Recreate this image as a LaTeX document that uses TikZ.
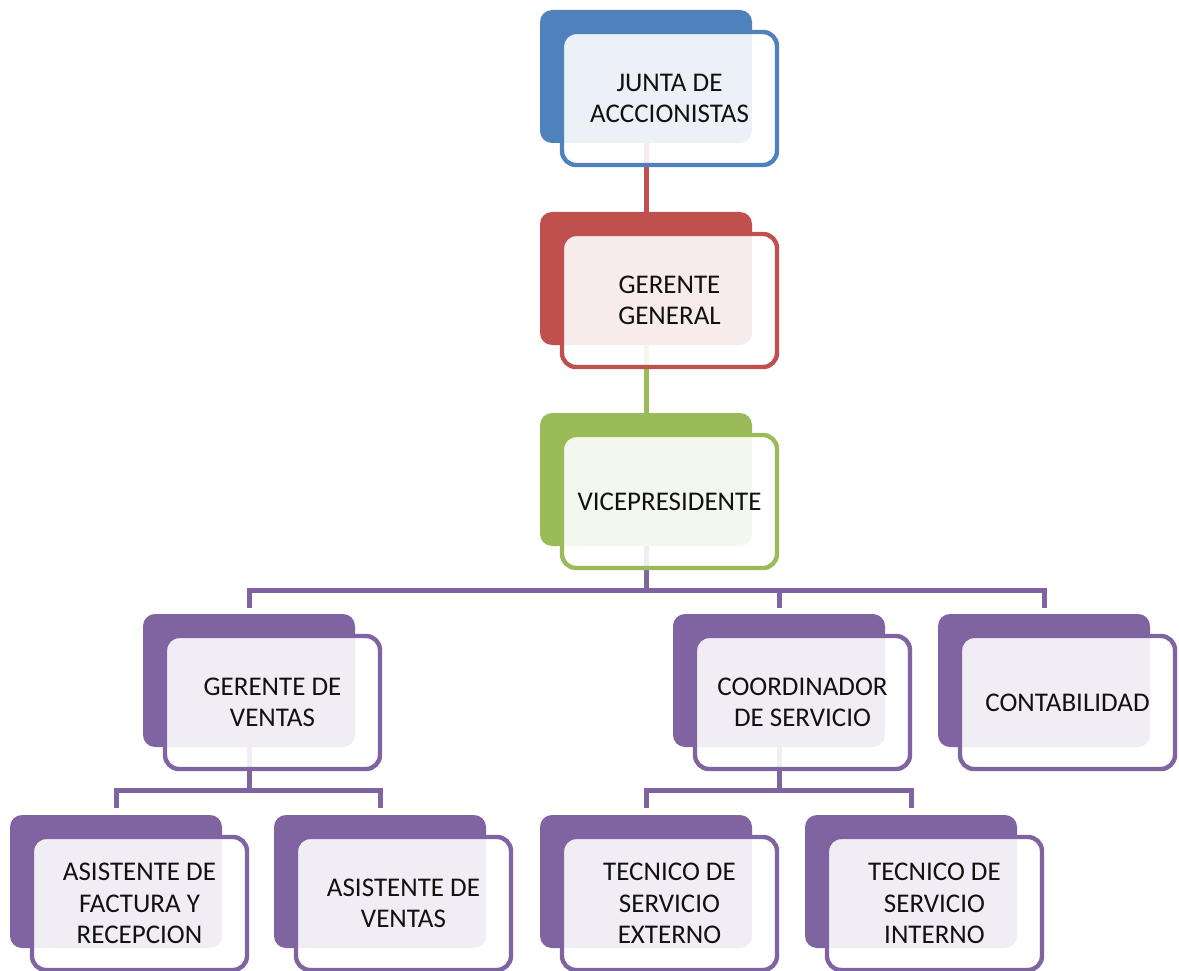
\documentclass[tikz,border=0pt]{standalone}
\usepackage{fontspec}
\setmainfont{Carlito}
\usetikzlibrary{calc,backgrounds}
\definecolor{cblue}{HTML}{4F81BD}
\definecolor{cred}{HTML}{C0504D}
\definecolor{cgreen}{HTML}{9BBB59}
\definecolor{cpurple}{HTML}{8064A2}
\definecolor{ctext}{HTML}{111111}
\tikzset{
  backbox/.style={rectangle, rounded corners=12pt, fill=#1, draw=none,
    minimum width=212pt, minimum height=133pt, inner sep=0pt, outer sep=0pt,
    anchor=north west},
  frontbox/.style={rectangle, rounded corners=14pt, draw=#1, line width=4.4pt,
    fill=white, fill opacity=0.89, text opacity=1, text=ctext,
    minimum width=215pt, minimum height=133pt, inner sep=0pt, outer sep=0pt,
    align=center, anchor=north west,
    font=\fontsize{27}{31.5}\selectfont},
  conn/.style={draw=#1, line width=5pt},
}
% one unit: a solid back card with a lighter framed card laid over it
\newcommand\orgunit[5]{%
  \node[backbox=#4] (#1-b) at (#2,#3) {};
  \node[frontbox=#4] (#1) at ($(#1-b.north west)+(22,22)$) {#5};
}
\begin{document}
\begin{tikzpicture}[x=1pt,y=-1pt]
\useasboundingbox (0,0) rectangle (1179,971);

\orgunit{junta}{540}{10}{cblue}{JUNTA DE\\ACCCIONISTAS}
\orgunit{gg}{540}{212}{cred}{GERENTE\\GENERAL}
\orgunit{vp}{540}{413}{cgreen}{VICEPRESIDENTE}
\orgunit{gv}{143}{614}{cpurple}{GERENTE DE\\VENTAS}
\orgunit{coord}{673}{614}{cpurple}{COORDINADOR\\DE SERVICIO}
\orgunit{cont}{938}{614}{cpurple}{CONTABILIDAD}
\orgunit{afr}{10}{815}{cpurple}{ASISTENTE DE\\FACTURA Y\\RECEPCION}
\orgunit{av}{274}{815}{cpurple}{ASISTENTE DE\\VENTAS}
\orgunit{tse}{540}{815}{cpurple}{TECNICO DE\\SERVICIO\\EXTERNO}
\orgunit{tsi}{805}{815}{cpurple}{TECNICO DE\\SERVICIO\\INTERNO}

\begin{scope}[on background layer]
  \fill[white] (0,0) rectangle (1179,971);
  % vertical links in the top column
  \draw[conn=cred] (junta-b.south) -- (gg-b.north);
  \draw[conn=cgreen] (gg-b.south) -- (vp-b.north);
  % vice president to the three departments
  \coordinate (bus1) at (0,590);
  \draw[conn=cpurple] (vp-b.south) -- (vp-b.south |- bus1);
  \draw[conn=cpurple] ($(gv-b.north)+(0,-6)$) -- (gv-b.north |- bus1)
    -- (cont-b.north |- bus1) -- ($(cont-b.north)+(0,-6)$);
  \draw[conn=cpurple] (coord-b.north |- bus1) -- ($(coord-b.north)+(0,-6)$);
  % sales manager to its assistants
  \coordinate (bus2) at (0,790);
  \draw[conn=cpurple] (gv-b.south) -- (gv-b.south |- bus2);
  \draw[conn=cpurple] ($(afr-b.north)+(0,-7)$) -- (afr-b.north |- bus2)
    -- (av-b.north |- bus2) -- ($(av-b.north)+(0,-7)$);
  % service coordinator to its technicians
  \draw[conn=cpurple] (coord-b.south) -- (coord-b.south |- bus2);
  \draw[conn=cpurple] ($(tse-b.north)+(0,-7)$) -- (tse-b.north |- bus2)
    -- (tsi-b.north |- bus2) -- ($(tsi-b.north)+(0,-7)$);
\end{scope}
\end{tikzpicture}
\end{document}
